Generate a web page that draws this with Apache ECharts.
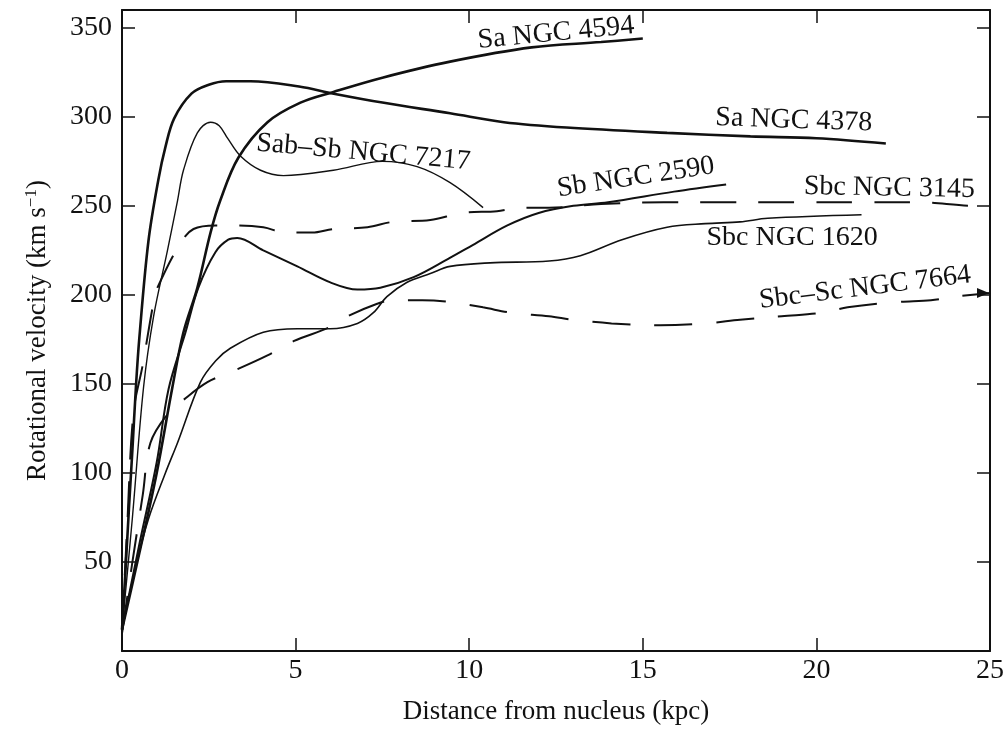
<!DOCTYPE html>
<html>
<head>
<meta charset="utf-8">
<script src="https://cdn.jsdelivr.net/npm/echarts@6/dist/echarts.min.js"></script>
<style>
html,body{margin:0;padding:0;background:#fff;}
#chart{width:1007px;height:730px;}
</style>
</head>
<body>
<div id="chart"></div>
<script>
// Rotation curves: [distance (kpc), velocity (km/s)]
const ngc4378 = [[0,12],[0.1,45],[0.2,80],[0.3,113],[0.4,148],[0.5,176],[0.76,230],[1.05,265],[1.25,283],[1.5,299],[2.0,313],[2.5,318],[3.0,320],[3.7,320],[5.1,317],[6.1,313],[7.5,308],[9.45,302],[11.0,297],[12.8,294],[15.7,291],[18.1,289],[20.0,288],[22.0,285]];
const ngc4594 = [[0,12],[0.5,55],[1.0,100],[1.45,148],[1.77,179],[2.17,204],[2.55,235],[2.83,253],[3.35,277],[4.19,297],[5.14,308],[6.09,314],[7.5,322],[9.45,331],[11.8,339],[13.8,342],[15.0,344]];
const ngc7217 = [[0,12],[0.3,75],[0.62,148],[0.91,188],[1.31,225],[1.6,253],[1.77,270],[2.17,291],[2.55,297],[2.8,295],[3.04,288],[3.41,278],[3.99,270],[4.65,267],[6.09,270],[7.5,275],[8.5,272],[9.45,263],[10.4,249]];
const ngc2590 = [[0,12],[0.5,60],[1.0,106],[1.34,147],[1.83,179],[2.2,204],[2.69,224],[3.06,231],[3.32,232],[4.07,225],[5.05,216],[6.0,207],[6.78,203],[7.44,204],[8.4,210],[9.37,220],[10.1,228],[11.1,239],[12.0,246],[13.0,250],[14.0,252],[15.9,258],[17.4,262]];
const ngc1620 = [[0,12],[0.39,47],[0.76,74],[1.25,100],[1.6,117],[2.26,151],[2.7,163],[3.12,170],[4.07,179],[5.05,181],[6.0,181],[6.78,184],[7.24,190],[7.63,199],[8.2,207],[8.88,212],[9.45,216],[10.6,218],[12.3,219],[13.2,222],[14.4,231],[15.7,238],[16.8,240],[17.8,241],[18.6,243],[21.3,245]];
const ngc3145 = [[0,10],[0.15,70],[0.33,134],[0.59,160],[0.91,196],[1.02,204],[1.68,229],[2.06,237],[2.69,239],[3.2,239],[4.07,238],[4.7,235],[5.48,235],[6.09,237],[7.07,238],[7.8,241],[8.88,242],[9.8,246],[10.8,247],[11.5,249],[12.3,249],[13.8,251],[15.6,252],[17.5,252],[19.6,252],[21.3,252],[22.9,252],[24.6,250],[25,250]];
const ngc7664 = [[0,10],[0.3,50],[0.6,88],[0.82,117],[1.31,133],[1.77,141],[2.46,151],[3.18,157],[4.19,166],[4.94,174],[6.0,182],[6.5,188],[7.35,195],[7.78,197],[8.65,197],[9.45,196],[10.4,193],[11.2,190],[12.3,188],[13.0,186],[14.1,184],[15.5,183],[16.8,184],[17.8,186],[19.0,188],[20.2,190],[20.9,193],[22.3,196],[23.3,197],[24.0,199],[25,201]];

const xTicks = [0,5,10,15,20,25];
const yTicks = [50,100,150,200,250,300,350];

const labelTexts = ['Sa NGC 4594','Sa NGC 4378','Sab\u2013Sb NGC 7217','Sb NGC 2590','Sbc NGC 3145','Sbc NGC 1620','Sbc\u2013Sc NGC 7664'];
const labelAnchors = [[12.5,347],[19.35,298],[6.95,280],[14.8,266],[22.1,260],[19.3,232],[21.4,204]];
const labelAngles = [5.5,-2,-5,8.5,-1,0,7];

const FONT = '"Liberation Serif","DejaVu Serif",serif';
const INK = '#111';

const chart = echarts.init(document.getElementById('chart'), null, {renderer:'canvas'});

function solid(name, data, w){
  return {name, type:'line', data, showSymbol:false, symbol:'none', smooth:0.35,
    lineStyle:{color:INK, width:w, type:'solid'}, z:3, silent:true};
}
function dashed(name, data, w, dash){
  return {name, type:'line', data, showSymbol:false, symbol:'none', smooth:0.35,
    lineStyle:{color:INK, width:w, type:dash}, z:3, silent:true};
}

const axisLabelStyle = {color:INK, fontFamily:FONT, fontSize:28};
const lineCfg = {show:true, onZero:false, lineStyle:{color:INK, width:2}};
const tickCfg = {show:true, inside:true, length:13, lineStyle:{color:INK, width:1.5}};

const option = {
  backgroundColor:'#fff',
  animation:false,
  grid:{left:122, right:16, top:10, bottom:79, containLabel:false},
  xAxis:[
    {type:'value', min:0, max:25, interval:5, position:'bottom',
     axisLine:lineCfg, axisTick:tickCfg,
     axisLabel:{...axisLabelStyle, margin:6, formatter:v=>xTicks.includes(v)?String(v):''},
     splitLine:{show:false},
     name:'Distance from nucleus (kpc)', nameLocation:'middle', nameGap:47,
     nameTextStyle:{color:INK, fontFamily:FONT, fontSize:27}},
    {type:'value', min:0, max:25, interval:5, position:'top',
     axisLine:lineCfg, axisTick:tickCfg,
     axisLabel:{show:false}, splitLine:{show:false}}
  ],
  yAxis:[
    {type:'value', min:0, max:360, interval:50, position:'left',
     axisLine:lineCfg, axisTick:tickCfg,
     axisLabel:{...axisLabelStyle, margin:10, formatter:v=>yTicks.includes(v)?String(v):''},
     splitLine:{show:false},
     name:'Rotational velocity (km s{sup|\u22121})', nameLocation:'middle', nameGap:70,
     nameTextStyle:{color:INK, fontFamily:FONT, fontSize:27,
       rich:{sup:{fontFamily:FONT, fontSize:17, verticalAlign:'top', padding:[0,0,12,0], color:INK}}}},
    {type:'value', min:0, max:360, interval:50, position:'right',
     axisLine:lineCfg, axisTick:tickCfg,
     axisLabel:{show:false}, splitLine:{show:false}}
  ],
  series:[
    solid('Sa NGC 4378', ngc4378, 2.6),
    solid('Sa NGC 4594', ngc4594, 2.6),
    solid('Sab-Sb NGC 7217', ngc7217, 1.4),
    solid('Sb NGC 2590', ngc2590, 2),
    solid('Sbc NGC 1620', ngc1620, 1.6),
    dashed('Sbc NGC 3145', ngc3145, 2, [36,22]),
    dashed('Sbc-Sc NGC 7664', ngc7664, 2, [38,24])
  ]
};
chart.setOption(option);

// arrow at the end of NGC 7664 (last data point)
const last7664 = ngc7664[ngc7664.length-1];
const arrowPx = chart.convertToPixel({gridIndex:0}, last7664);

const graphics = labelTexts.map((t,i)=>{
  const p = chart.convertToPixel({gridIndex:0}, labelAnchors[i]);
  return {type:'text', x:p[0], y:p[1], rotation:labelAngles[i]*Math.PI/180, z:10,
    style:{text:t, fill:INK, font:'28px '+FONT, textAlign:'center', textVerticalAlign:'middle'}};
});
graphics.push({type:'polygon', z:10,
  shape:{points:[[arrowPx[0]-1,arrowPx[1]],[arrowPx[0]-13,arrowPx[1]-5],[arrowPx[0]-13,arrowPx[1]+5]]},
  style:{fill:INK}});
chart.setOption({graphic:graphics});
</script>
</body>
</html>
